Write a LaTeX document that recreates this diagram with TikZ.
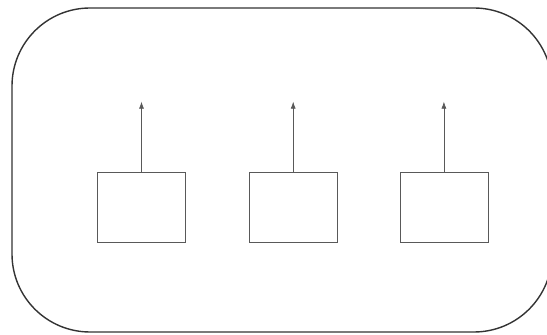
\documentclass[tikz,border=0pt]{standalone}
\usetikzlibrary{positioning,arrows.meta}

\begin{document}
\begin{tikzpicture}[x=1pt,y=1pt,
  unit/.style={draw=black!65,line width=0.7pt,minimum width=88pt,minimum height=70pt,inner sep=0pt},
  up/.style={draw=black!65,line width=0.7pt,-{Latex[length=7pt,width=5pt]}}]
\useasboundingbox (0,0) rectangle (547,335);
\fill[white] (0,0) rectangle (547,335);
\draw[black!80,line width=1.4pt,rounded corners=78pt] (12,3) rectangle (552,327);

\node[unit](b1) at (141.5,128){};
\node[unit, right=63pt of b1](b2){};
\node[unit, right=62pt of b2](b3){};
\coordinate[above=70pt of b1.north](t1);
\coordinate[above=70pt of b2.north](t2);
\coordinate[above=70pt of b3.north](t3);
\path (b1.north) edge[up] (t1);
\path (b2.north) edge[up] (t2);
\path (b3.north) edge[up] (t3);

\end{tikzpicture}
\end{document}
